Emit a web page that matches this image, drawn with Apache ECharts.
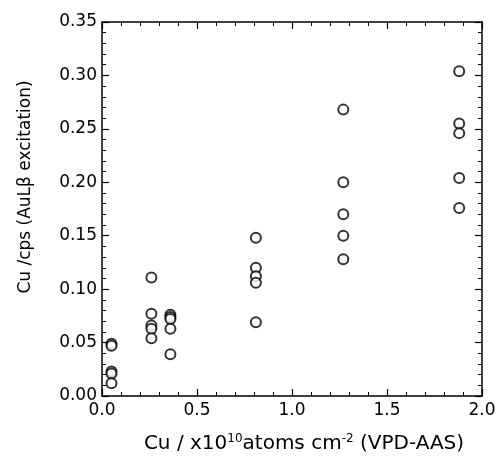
<!DOCTYPE html>
<html><head><meta charset="utf-8">
<script src="https://cdn.jsdelivr.net/npm/echarts@6/dist/echarts.min.js"></script>
<style>html,body{margin:0;padding:0;background:#fff}#c{width:500px;height:461px}</style>
</head><body><div id="c"></div>
<script>
// x positions (Cu / 1e10 atoms cm^-2) and measured Cu/cps values
const xGroups = [0.05, 0.26, 0.36, 0.81, 1.27, 1.88];
const yValues = [
  [0.049, 0.047, 0.023, 0.021, 0.012],
  [0.111, 0.077, 0.066, 0.063, 0.054],
  [0.076, 0.074, 0.072, 0.063, 0.039],
  [0.148, 0.120, 0.112, 0.106, 0.069],
  [0.268, 0.200, 0.170, 0.150, 0.128],
  [0.304, 0.255, 0.246, 0.204, 0.176]
];
const xTicks = [0, 0.5, 1.0, 1.5, 2.0];
const yTicks = [0, 0.05, 0.10, 0.15, 0.20, 0.25, 0.30, 0.35];

const pts = [];
xGroups.forEach((x, i) => yValues[i].forEach(y => pts.push([x, y])));

const font = 'DejaVu Sans';
const lineStyle = {color: '#000', width: 1.5};
function axisCommon(extra) {
  return Object.assign({
    axisLine: {show: true, onZero: false, lineStyle},
    axisTick: {show: true, inside: true, length: 7, lineStyle: {color: '#000', width: 1.2}},
    minorTick: {show: true, splitNumber: 5, length: 4, lineStyle: {color: '#000', width: 1}},
    splitLine: {show: false}
  }, extra);
}
const chart = echarts.init(document.getElementById('c'));
chart.setOption({
  animation: false,
  grid: {left: 102, right: 18, top: 22, bottom: 65},
  xAxis: [
    axisCommon({type: 'value', min: 0, max: 2, interval: 0.5, position: 'bottom',
      axisLabel: {fontFamily: font, fontSize: 17, color: '#000', margin: 6,
        formatter: v => xTicks.includes(v) ? v.toFixed(1) : ''},
      name: '{n|Cu / x10}{s|10}{n|atoms cm}{s|-2}{n| (VPD-AAS)}',
      nameLocation: 'middle', nameGap: 37,
      nameTextStyle: {padding: [0, 0, 0, 24], rich: {
        n: {fontFamily: font, fontSize: 20, color: '#000'},
        s: {fontFamily: font, fontSize: 12, color: '#000', verticalAlign: 'top', padding: [0, 0, 9, 0]}
      }}}),
    axisCommon({type: 'value', min: 0, max: 2, interval: 0.5, position: 'top',
      axisLabel: {show: false}})
  ],
  yAxis: [
    axisCommon({type: 'value', min: 0, max: 0.35, interval: 0.05, position: 'left',
      axisLabel: {fontFamily: font, fontSize: 17, color: '#000', margin: 5,
        formatter: v => v.toFixed(2)},
      name: 'Cu /cps (AuLβ excitation)', nameLocation: 'middle', nameGap: 68,
      nameTextStyle: {fontFamily: font, fontSize: 17, color: '#000', padding: [0, 0, 0, 44]}}),
    axisCommon({type: 'value', min: 0, max: 0.35, interval: 0.05, position: 'right',
      axisLabel: {show: false}})
  ],
  series: [{
    type: 'scatter', data: pts, symbol: 'emptyCircle', symbolSize: 10,
    itemStyle: {color: '#000', borderColor: '#000', borderWidth: 1.3}
  }]
});
</script></body></html>
